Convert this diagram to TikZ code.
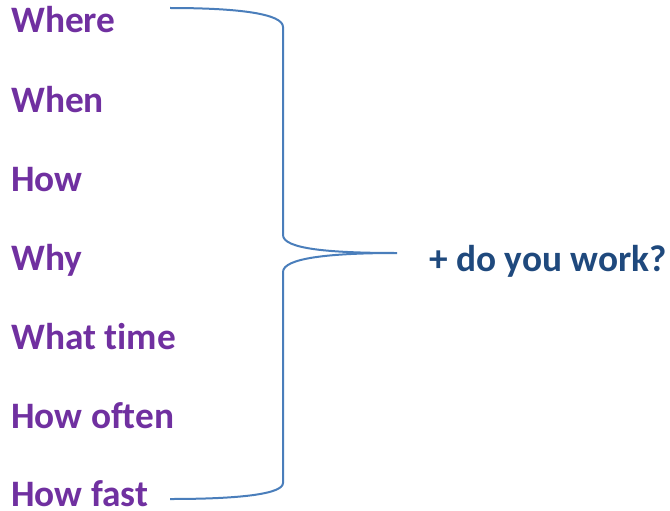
\documentclass[tikz,border=0pt]{standalone}
\usepackage{fontspec}
\setmainfont{Carlito}[Ligatures=NoCommon]
\usetikzlibrary{positioning}
\definecolor{wordpurple}{HTML}{7030A0}
\definecolor{phraseblue}{HTML}{1F497D}
\definecolor{braceblue}{HTML}{4A7EBB}
\tikzset{every node/.style={inner sep=0pt, anchor=base west},
  word/.style={wordpurple, font=\bfseries\fontsize{28}{33}\selectfont},
  phrase/.style={phraseblue, font=\bfseries\fontsize{28}{33}\selectfont},
  brace/.style={braceblue, line width=1.5pt}}

\begin{document}
\begin{tikzpicture}[x=0.75pt, y=-0.75pt]
   \useasboundingbox (0,0) rectangle (670,510);
   % question words
   \node[word] (where)  at (11, 33)  {Where};
   \node[word] (when)   at (11,112)  {When};
   \node[word] (how)    at (11,191)  {How};
   \node[word] (why)    at (11,270)  {Why};
   \node[word] (what)   at (11,349)  {What time};
   \node[word] (often)  at (11,428)  {How often};
   \node[word] (fast)   at (11,506)  {How fast};
   \node[phrase] (work) at (429,271) {+ do you work?};
   % brace
   \coordinate (top)    at (170,  8);
   \coordinate (bottom) at (170,499);
   \coordinate (tip)    at (397,253);
   \draw[brace]
     (top)      .. controls (240,  8) and (283, 14) ..
     (283, 27)  -- (283,235)
                .. controls (283,249) and (330,253) ..
     (tip)      .. controls (330,253) and (283,258) ..
     (283,272)  -- (283,483)
                .. controls (283,494) and (240,499) .. (bottom);
\end{tikzpicture}
\end{document}
